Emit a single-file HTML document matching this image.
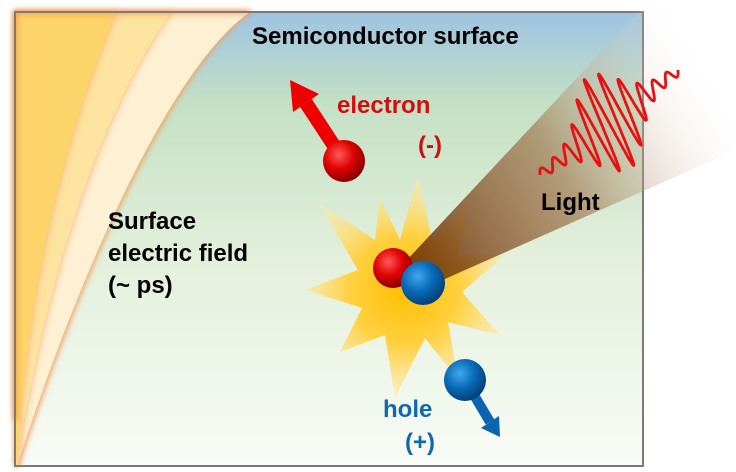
<!DOCTYPE html>
<html><head><meta charset="utf-8"><style>
html,body{margin:0;padding:0;background:#fff;width:736px;height:472px;overflow:hidden}
svg{display:block}
text{font-family:"Liberation Sans",Arial,sans-serif;font-weight:bold}
</style></head><body>
<svg width="736" height="472" viewBox="0 0 736 472" xmlns="http://www.w3.org/2000/svg">
<defs>
<linearGradient id="bg" x1="0" y1="0" x2="0" y2="1">
<stop offset="0" stop-color="#9ec3e2"/>
<stop offset="0.2" stop-color="#c4e0c4"/>
<stop offset="0.55" stop-color="#e4f0dc"/>
<stop offset="1" stop-color="#f8fbf6"/>
</linearGradient>
<linearGradient id="beam" x1="405" y1="270" x2="720" y2="80" gradientUnits="userSpaceOnUse">
<stop offset="0" stop-color="#6e3508" stop-opacity="0.95"/>
<stop offset="0.5" stop-color="#9a6a40" stop-opacity="0.6"/>
<stop offset="1" stop-color="#ffffff" stop-opacity="0"/>
</linearGradient>
<radialGradient id="star" cx="405" cy="290" r="110" gradientUnits="userSpaceOnUse">
<stop offset="0" stop-color="#ffbf00"/>
<stop offset="0.5" stop-color="#ffd040"/>
<stop offset="1" stop-color="#ffe9a0" stop-opacity="0.5"/>
</radialGradient>
<radialGradient id="red" cx="0.38" cy="0.35" r="0.7">
<stop offset="0" stop-color="#ff5a5a"/>
<stop offset="0.5" stop-color="#e00000"/>
<stop offset="1" stop-color="#7a0000"/>
</radialGradient>
<radialGradient id="blue" cx="0.38" cy="0.35" r="0.7">
<stop offset="0" stop-color="#40a8f0"/>
<stop offset="0.5" stop-color="#0a6ab8"/>
<stop offset="1" stop-color="#053c70"/>
</radialGradient>
<filter id="glow" x="-20%" y="-20%" width="140%" height="140%"><feGaussianBlur stdDeviation="3"/></filter>
</defs>
<rect x="15" y="12" width="628" height="454" fill="url(#bg)"/>
<!-- orange bands -->
<path d="M15 12 L252 12 C182 60 92 240 19 466 L15 466 Z" fill="#f0a060" filter="url(#glow)"/>
<path d="M15 12 L250 12 C180 60 90 240 17 466 L15 466 Z" fill="#fef0d2"/>
<path d="M15 12 L174 12 C122 80 52 240 18 466 L15 466 Z" fill="#f6b070" filter="url(#glow)" opacity="0.7"/>
<path d="M15 12 L172 12 C120 80 50 240 17 466 L15 466 Z" fill="#fde3a0"/>
<path d="M15 12 L118 12 C82 100 32 240 18 466 L15 466 Z" fill="#f8b070" filter="url(#glow)" opacity="0.7"/>
<path d="M15 12 L116 12 C80 100 30 240 17 466 L15 466 Z" fill="#fcd46a"/>
<path d="M15 420 L15 12 L250 12" fill="none" stroke="#f08030" stroke-width="3" filter="url(#glow)"/>
<rect x="15" y="12" width="628" height="454" fill="none" stroke="#7a7a7a" stroke-width="2"/>
<!-- starburst -->
<polygon fill="url(#star)" points="418,175 432,240 470,205 458,255 505,255 462,292 500,335 448,322 458,380 425,338 395,398 385,335 340,352 362,308 305,290 358,270 318,202 375,240 380,198 400,240"/>
<!-- beam -->
<polygon points="405,262 645,5 736,0 736,150 420,290" fill="url(#beam)"/>
<!-- wave -->
<path id="wave" fill="none" stroke="#e81010" stroke-width="2.8" stroke-linejoin="round" d=""/>
<!-- electron arrow -->
<line x1="344" y1="161" x2="306" y2="103" stroke="#ee0000" stroke-width="14"/>
<polygon points="290,80 319,94 293,112" fill="#ee0000"/>
<circle cx="344" cy="161" r="21" fill="url(#red)"/>
<!-- pair -->
<circle cx="393" cy="268" r="20" fill="url(#red)"/>
<circle cx="423" cy="283" r="22" fill="url(#blue)"/>
<!-- hole -->
<line x1="468" y1="385" x2="490" y2="422" stroke="#0a64b0" stroke-width="10"/>
<polygon points="500,437 499,416 481,428" fill="#0a64b0"/>
<circle cx="465" cy="380" r="21" fill="url(#blue)"/>
<!-- text -->
<text x="252" y="44" font-size="24" fill="#000">Semiconductor surface</text>
<text x="337" y="113" font-size="24" fill="#d01010">electron</text>
<text x="418" y="153" font-size="24" fill="#d01010">(-)</text>
<text x="541" y="210" font-size="24" fill="#000">Light</text>
<text x="108" y="229" font-size="24" fill="#000">Surface</text>
<text x="108" y="261" font-size="24" fill="#000">electric field</text>
<text x="108" y="293" font-size="24" fill="#000">(~ ps)</text>
<text x="383" y="417" font-size="24" fill="#1068b0">hole</text>
<text x="405" y="450" font-size="24" fill="#1068b0">(+)</text>
</svg>
<script>
(function(){
var p=[],x0=540,y0=175,x1=678,y1=70,N=900;
for(var i=0;i<=N;i++){var t=i/N;
var cx=x0+(x1-x0)*t,cy=y0+(y1-y0)*t;
var env=Math.exp(-Math.pow((t-0.5)/0.2,2));
var A=5+46*env;
var s=Math.sin(t*2*Math.PI*11);
p.push((cx-0.43*A*s).toFixed(1)+","+(cy-0.9*A*s).toFixed(1));}
document.getElementById("wave").setAttribute("d","M"+p.join(" L"));
})();
</script>
</body></html>
